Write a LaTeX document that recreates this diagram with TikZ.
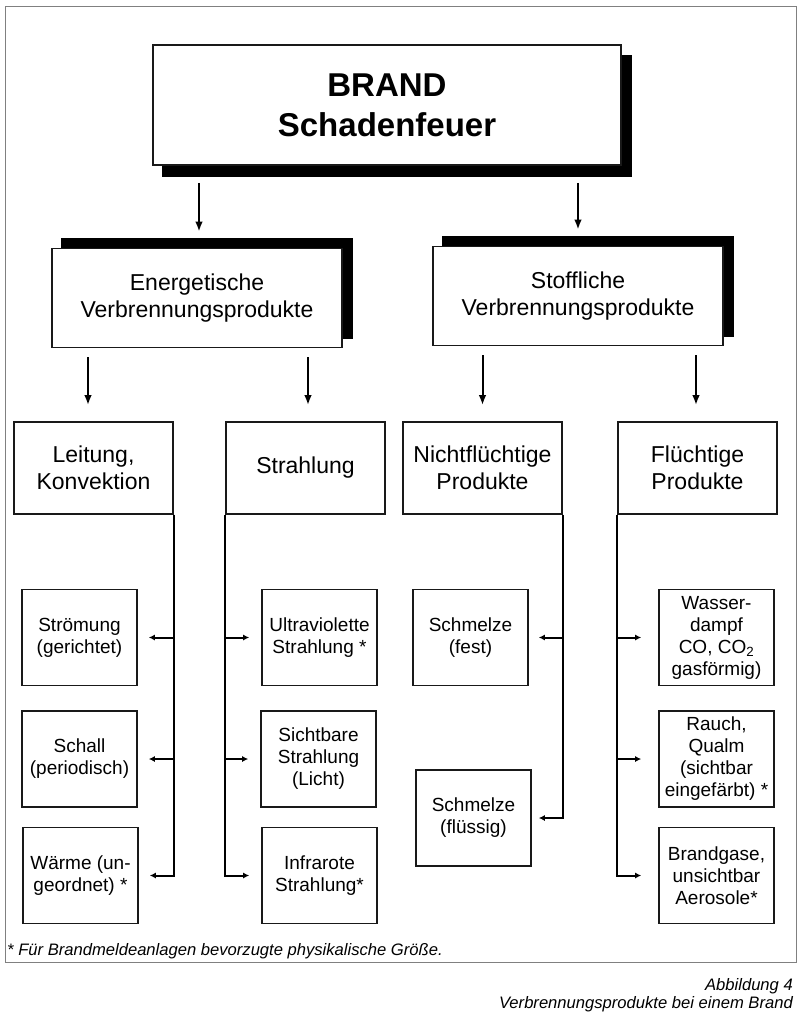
\documentclass[tikz,border=0pt]{standalone}
\usepackage{fontspec}
\setmainfont{Liberation Sans}
\usetikzlibrary{arrows.meta,shadows}
\tikzset{
  titlebox/.style={draw=black!90, fill=white, line width=1.6pt, inner sep=0pt, align=center,
    minimum width=468pt, minimum height=120pt,
    font=\bfseries\fontsize{33}{40}\selectfont,
    general shadow={fill=black, draw=black, shadow xshift=10pt, shadow yshift=-11pt}},
  midbox/.style={draw=black!90, fill=white, line width=1.6pt, inner sep=0pt, align=center,
    minimum width=290pt, minimum height=99pt,
    font=\fontsize{23}{27}\selectfont,
    general shadow={fill=black, draw=black, shadow xshift=10pt, shadow yshift=9.5pt}},
  catbox/.style={draw=black!90, line width=1.6pt, inner sep=0pt, align=center,
    minimum width=159pt, minimum height=92pt,
    font=\fontsize{23}{27}\selectfont},
  leafbox/.style={draw=black!90, line width=1.6pt, inner sep=0pt, align=center,
    minimum width=115pt, minimum height=96pt,
    font=\fontsize{19}{22}\selectfont},
  bigarr/.style={line width=2pt, -{Latex[length=10pt,width=7.5pt]}},
  smallarr/.style={line width=2pt, -{Latex[length=6pt,width=6pt]}},
  note/.style={inner sep=0pt, font=\itshape\fontsize{16.6}{20}\selectfont}
}
\begin{document}
\begin{tikzpicture}[x=1pt,y=-1pt]
\useasboundingbox (0,0) rectangle (800,1013);
\fill[white] (0,0) rectangle (800,1013);
\draw[black!50, line width=1pt] (5,6) rectangle (796,962);

% level 1
\node[titlebox] (main) at (387,105) {BRAND\\Schadenfeuer};

% level 2
\node[midbox] (E) at (197,298) {Energetische\\Verbrennungsprodukte};
\node[midbox] (S) at (578,296) {Stoffliche\\Verbrennungsprodukte};

% level 3
\node[catbox] (L)  at (93.5,468)  {Leitung,\\Konvektion};
\node[catbox] (St) at (305.5,468) {Strahlung};
\node[catbox] (N)  at (482.5,468) {Nichtflüchtige\\Produkte};
\node[catbox] (F)  at (697.5,468) {Flüchtige\\Produkte};

% leaves
\node[leafbox] (l1) at (79.5,637.5) {Strömung\\(gerichtet)};
\node[leafbox] (l2) at (79.5,759)   {Schall\\(periodisch)};
\node[leafbox] (l3) at (80.5,875.5) {Wärme (un-\\geordnet) *};

\node[leafbox] (s1) at (319.5,637.5) {Ultraviolette\\Strahlung *};
\node[leafbox] (s2) at (318.5,759)   {Sichtbare\\Strahlung\\(Licht)};
\node[leafbox] (s3) at (319.5,875.5) {Infrarote\\Strahlung*};

\node[leafbox] (n1) at (470.5,637.5) {Schmelze\\(fest)};
\node[leafbox] (n2) at (473.5,818)   {Schmelze\\(flüssig)};

\node[leafbox] (f1) at (716.5,637.5) {Wasser-\\dampf\\CO, CO\textsubscript{2}\\gasförmig)};
\node[leafbox] (f2) at (716.5,759)   {Rauch,\\Qualm\\(sichtbar\\eingefärbt) *};
\node[leafbox] (f3) at (716.5,875.5) {Brandgase,\\unsichtbar\\Aerosole*};

% arrows level 1 -> 2
\draw[bigarr, shorten <=17pt, shorten >=16pt] ([xshift=2pt]main.south -| E) -- ([xshift=2pt]E.north);
\draw[bigarr, shorten <=17pt, shorten >=16pt] (main.south -| S) -- (S.north);

% arrows level 2 -> 3
\draw[bigarr, shorten <=9pt, shorten >=16pt] ([xshift=-5.5pt]E.south -| L) -- ([xshift=-5.5pt]L.north);
\draw[bigarr, shorten <=9pt, shorten >=16pt] ([xshift=2.5pt]E.south -| St) -- ([xshift=2.5pt]St.north);
\draw[bigarr, shorten <=9pt, shorten >=16pt] (S.south -| N) -- (N.north);
\draw[bigarr, shorten <=9pt, shorten >=16pt] ([xshift=-1.5pt]S.south -| F) -- ([xshift=-1.5pt]F.north);

% branches
\foreach \c in {l1,l2,l3} \draw[smallarr, shorten >=11pt] (L.south east) |- (\c.east);
\foreach \c in {s1,s2,s3} \draw[smallarr, shorten >=12pt] (St.south west) |- (\c.west);
\draw[smallarr, shorten >=10pt] (N.south east) |- (n1.east);
\draw[smallarr, shorten >=7pt] (N.south east) |- (n2.east);
\foreach \c in {f1,f2,f3} \draw[smallarr, shorten >=17pt] (F.south west) |- (\c.west);

% notes
\node[note, anchor=base west] (fn) at (7,955) {* Für Brandmeldeanlagen bevorzugte physikalische Größe.};
\node[note, anchor=base east] (cap1) at (793,990) {Abbildung 4};
\node[note, anchor=base east] (cap2) at (793,1008) {Verbrennungsprodukte bei einem Brand};
\end{tikzpicture}
\end{document}
